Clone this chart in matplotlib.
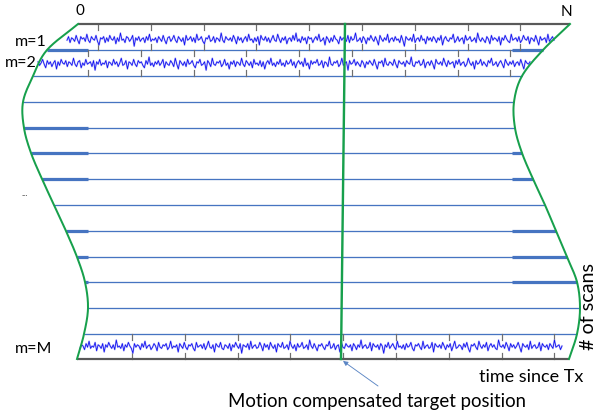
import numpy as np
import matplotlib
matplotlib.use("Agg")
import matplotlib.pyplot as plt

# ---------------- data ----------------
col_labels = ["0", "N"]
row_labels = ["m=1", "m=2", "...", "m=M"]
axis_title_x = "time since Tx"
axis_title_y = "# of scans"
annotation = "Motion compensated target position"

# row (scan) separator lines, y in pixels
row_lines_y = [50, 76, 102, 128, 153, 179, 205, 231, 257, 282, 308, 334]
left_thick_rows = [50, 128, 153, 179, 231, 257, 282]
right_thick_rows = [50, 153, 179, 231, 257, 282]

# left / right boundary curves (x, y)
left_curve_x = [78, 47, 33, 23, 24, 31, 42, 54, 66, 77, 85, 88, 84, 77]
left_curve_y = [24, 50, 76, 102, 128, 153, 179, 205, 231, 257, 282, 308, 334, 359]
right_curve_x = [570, 543, 522, 514, 515, 522, 533, 545, 556, 567, 577, 580, 577, 569]
right_curve_y = [24, 50, 76, 102, 128, 153, 179, 205, 231, 257, 282, 308, 334, 359]

# received signal traces (pixel offsets)
noise_m1_a = [
 1,-2, 3,-1, 0, 2,-3, 1, 4,-2, 0,-1, 2,-4, 1, 3,-2, 0, 1,-3,
 2, 5,-1, 0,-2, 3,-1, 2,-3, 0, 1,-2, 4,-1, 2,-5, 1, 0, 3,-2,
-1, 2, 0,-3, 6,-1, 1,-2, 2, 0,-1, 3,-2, 1,-4, 2, 0, 1,-1, 3,
-2, 0, 2,-3, 1, 4,-1,-2, 2, 0,-3, 1, 3,-2, 0, 2,-1, 5,-3, 1,
 0,-2, 2,-1, 3,-4, 1, 0,-2, 2, 4,-1, 0,-3, 2, 1,-2, 3,-1, 0,
 2,-5, 1, 3,-2, 0, 1,-1, 2,-3, 0, 4,-2, 1,-1, 3, 0,-2, 2,-4,
 1, 0, 3,-1, 2,-2, 5,-3, 0, 1,-2, 2,-1, 3, 0,-3, 1, 2,-4, 0,
 3,-1, 1,-2, 4, 0,-1, 2,-3, 1,-5, 2, 0, 3,-2, 1,-1, 4,-2, 0]
noise_m1_b = [
-1, 3, 0,-2, 1,-4, 2, 1,-1, 5,-2, 0, 3,-1, 2,-3, 0, 1, 4,-2,
 1,-1, 0, 2,-3, 3,-2, 1, 0,-5, 2, 1,-1, 3,-2, 0, 4,-1, 1,-3,
 0, 2,-2, 1, 5,-3, 0, 2,-1, 1,-4, 3, 0,-1, 2,-2, 1, 0, 3,-3,
 1, 6,-2, 0, 1,-1, 2,-4, 3, 0,-1, 2,-3, 1, 0, 4,-2, 1,-1, 2,
-2, 0, 3,-1, 1,-3, 5, 0,-2, 1, 2,-1, 0,-4, 3, 1,-2, 2, 0,-1,
 4,-3, 1, 0,-2, 2, 1,-1, 3,-5, 0, 2,-1, 1, 3,-2, 0, 4,-3, 1,
-1, 0, 2,-2, 5,-1, 1,-3, 0, 2, 3,-4, 1, 0,-1, 2,-2, 3, 1,-3,
 0, 1,-2, 4,-1, 0, 2,-3, 1, 5,-2, 1, 0,-1, 3,-4, 2, 0,-2, 1]
noise_m2_a = [
-1, 2, 0,-3, 1, 4,-2, 1,-1, 3, 0,-2, 5,-1, 2,-3, 0, 1,-2, 3,
-1, 0, 2,-4, 1, 3,-1,-2, 4, 0, 2,-3, 1, 0,-1, 3,-2, 6,-1, 1,
-3, 2, 0, 1,-2, 4,-1, 0, 2,-3, 1,-1, 3, 0,-4, 2, 1,-2, 5,-1,
 0, 2,-3, 1, 3,-2, 0,-1, 2, 4,-2, 1,-5, 2, 0, 3,-1, 1,-2, 2,
 0,-3, 4,-1, 1, 2,-2, 0, 3,-4, 1, 5,-2, 0, 2,-1, 3,-3, 1, 0,
-2, 2, 4,-1, 0,-3, 2, 1,-1, 6,-2, 0, 3,-4, 1, 2,-1, 0,-2, 3,
 1,-3, 2, 0, 5,-1, 1,-2, 3,-1, 0, 2,-4, 1, 3,-2, 0, 2,-1, 4,
-3, 1, 0, 2,-2, 3,-1, 5, 0,-2, 1,-4, 2, 0, 3,-1, 1,-3, 2, 0]
noise_m2_b = [
 3,-2, 1, 0,-3, 2,-1, 4, 0,-2, 1,-1, 3,-4, 2, 0, 5,-2, 1,-1,
 0,-3, 2, 1,-2, 4,-1, 0, 3,-5, 1, 2,-1, 0,-2, 3, 1,-4, 2, 0,
-1, 6,-2, 1, 0,-3, 2,-1, 1, 3,-2, 0, 4,-1, 1,-2, 0, 2,-3, 1,
 5,-1, 0,-2, 3,-4, 1, 2,-1, 0, 2,-3, 1, 4,-2, 0, 1,-1, 3,-2,
 0, 1,-5, 2, 3,-1, 0,-2, 2, 1,-3, 4, 0,-1, 2,-2, 1, 5,-3, 0,
 1,-1, 2,-4, 0, 3,-2, 1, 0,-1, 4,-2, 1,-3, 2, 0,-1, 3, 1,-4,
 0, 2,-1, 5,-2, 1, 0,-3, 2,-1, 1, 3,-2, 0,-4, 2, 1,-1, 3, 0,
-2, 1, 4,-3, 0, 2,-1, 1,-2, 3, 0,-1, 2,-3, 1, 5,-2, 0, 1,-1]
noise_mM_a = [
 2,-1, 0, 3,-2, 1,-4, 2, 0, 1,-3, 4,-1, 0, 2,-2, 5,-1, 1,-3,
 0, 2,-1, 3,-5, 1, 0, 2,-2, 4,-1, 1,-3, 0, 2, 6,-2, 1,-1, 0,
 3,-2, 1,-4, 2, 0,-1, 3, 1,-2, 0, 4,-3, 1, 2,-1, 0,-2, 3, 1,
-4, 2, 0, 1,-1, 5,-2, 0, 2,-3, 1, 3,-1, 0,-2, 2, 4,-3, 1, 0,
-1, 2,-2, 3, 0,-4, 1, 2,-1, 5,-2, 0, 1,-3, 2, 3,-1, 0, 2,-2,
 4,-1, 1,-3, 0, 2,-2, 6,-1, 0, 1,-2, 3,-4, 2, 0,-1, 2, 1,-3,
 0, 4,-2, 1,-1, 3,-3, 0, 2,-1, 5,-2, 0, 1,-3, 2, 1,-1, 3,-4,
 0, 2,-1, 4,-2, 1, 0,-3, 2, 1,-1, 3,-5, 0, 2,-2, 1, 4,-1, 0]
noise_mM_b = [
-2, 1, 3,-1, 0,-4, 2, 1,-2, 3, 0,-1, 5,-3, 1, 2,-2, 0, 1,-1,
 4,-2, 0, 3,-1, 1,-5, 2, 0,-1, 2, 1,-3, 4,-2, 0, 1,-1, 3,-2,
 0, 6,-1, 1,-3, 2, 0,-2, 1, 3,-4, 1, 0, 2,-1, 3,-2, 1, 0,-3,
 2, 4,-1, 0,-2, 1, 3,-4, 2, 0,-1, 2, 1,-3, 5,-2, 0, 1,-1, 2,
-3, 0, 3,-1, 1,-2, 4, 0,-4, 2, 1,-1, 0, 3,-2, 1,-3, 2, 5,-1,
 0,-2, 1, 3,-4, 0, 2,-1, 1,-3, 4, 0,-2, 1,-1, 2, 3,-5, 0, 1,
-1, 2,-3, 0, 4,-2, 1,-1, 2, 0,-3, 1, 5,-2, 0, 1,-1, 3,-4, 2,
 0,-1, 2, 1,-3, 4,-2, 0, 1,-1, 3,-2, 0, 2,-5, 1, 0,-1, 3, 0]

# ---------------- styles ----------------
GREEN = "#17a04c"
BLUE_LINE = "#4674c1"
TRACE = "#1010f0"
GREY = "#595959"
TICK = "#6f6f6f"
FONT = ["Lato", "DejaVu Sans"]
PX = 72 / 100.0

W, H = 597, 416
fig = plt.figure(figsize=(W / 100, H / 100), dpi=100)
ax = fig.add_axes([0, 0, 1, 1])
ax.set_xlim(0, W)
ax.set_ylim(H, 0)
ax.axis("off")


def smooth(xs, ys, n=16):
    P = np.column_stack([xs, ys]).astype(float)
    P = np.vstack([P[0] * 2 - P[1], P, P[-1] * 2 - P[-2]])
    out = []
    for i in range(1, len(P) - 2):
        p0, p1, p2, p3 = P[i - 1], P[i], P[i + 1], P[i + 2]
        for t in np.linspace(0, 1, n, endpoint=False):
            t2, t3 = t * t, t * t * t
            out.append(0.5 * ((2 * p1) + (-p0 + p2) * t + (2 * p0 - 5 * p1 + 4 * p2 - p3) * t2
                              + (-p0 + 3 * p1 - 3 * p2 + p3) * t3))
    out.append(P[-2])
    out = np.array(out)
    return out[:, 0], out[:, 1]


lx, ly = smooth(left_curve_x, left_curve_y)
rx, ry = smooth(right_curve_x, right_curve_y)


def lx_at(y):
    return float(np.interp(y, ly, lx))


def rx_at(y):
    return float(np.interp(y, ry, rx))


# row lines
for y in row_lines_y:
    ax.plot([lx_at(y), rx_at(y)], [y, y], color=BLUE_LINE, lw=1.3 * PX, solid_capstyle="butt", zorder=2)
for y in left_thick_rows:
    ax.plot([lx_at(y), 88], [y, y], color=BLUE_LINE, lw=3.2 * PX, solid_capstyle="butt", zorder=2)
for y in right_thick_rows:
    ax.plot([512, rx_at(y)], [y, y], color=BLUE_LINE, lw=3.2 * PX, solid_capstyle="butt", zorder=2)

# top and bottom axes
ax.plot([78, 570], [24, 24], color=GREY, lw=2.2 * PX, solid_capstyle="butt", zorder=3)
ax.plot([77, 569], [359, 359], color=GREY, lw=2.2 * PX, solid_capstyle="butt", zorder=3)


# ticks of the signal panels
def ticks(x0, step, n, ytop, ybot, ln=6):
    for k in range(n):
        x = x0 + step * k
        ax.plot([x, x], [ytop, ytop + ln], color=TICK, lw=1.2 * PX, zorder=2.5)
        ax.plot([x, x], [ybot, ybot - ln], color=TICK, lw=1.2 * PX, zorder=2.5)


ticks(98, 52.8, 9, 24, 50)
ticks(88, 52.8, 9, 50, 76)
ticks(132, 52.8, 9, 334, 359)


# signal traces
def trace(vals, x0, x1, yc, amp=1.0):
    v = np.asarray(vals, dtype=float)
    xs = np.linspace(x0, x1, len(v))
    ys = yc + amp * v
    ax.plot(xs, ys, color="#9a9af8", lw=1.8 * PX, alpha=0.6, zorder=4)
    ax.plot(xs, ys, color=TRACE, lw=0.8 * PX, zorder=4.5)


trace(noise_m1_a + noise_m1_b, 67, 554, 39, 1.2)
trace(noise_m2_a + noise_m2_b, 38, 530, 63, 1.2)
trace(noise_mM_a + noise_mM_b, 80, 562, 346, 1.2)

# green curves
ax.plot(lx, ly, color=GREEN, lw=2.0 * PX, zorder=5)
ax.plot(rx, ry, color=GREEN, lw=2.0 * PX, zorder=5)
ax.plot([345, 341], [24, 359], color=GREEN, lw=2.4 * PX, zorder=5)

# arrow
ax.annotate("", xy=(343, 361), xytext=(378, 386),
            arrowprops=dict(arrowstyle="-|>", color="#5b86c4", lw=0.9 * PX,
                            mutation_scale=7, shrinkA=0, shrinkB=0), zorder=6)

# texts
renderer = fig.canvas.get_renderer()


def fit_text(x, y, s, width_px, ha="center", va="center", rotation=0, base=12):
    t = ax.text(x, y, s, ha=ha, va=va, rotation=rotation, fontsize=base, family=FONT, color="black")
    bb = t.get_window_extent(renderer=renderer)
    w = bb.height if rotation else bb.width
    t.set_fontsize(base * width_px / w)
    return t


ax.text(80, 11, col_labels[0], ha="center", va="center", fontsize=11, family=FONT)
ax.text(566, 12, col_labels[1], ha="center", va="center", fontsize=11, family=FONT)
ax.text(31, 42, row_labels[0], ha="center", va="center", fontsize=11.5, family=FONT)
ax.text(21, 63, row_labels[1], ha="center", va="center", fontsize=11.5, family=FONT)
ax.text(25, 193, row_labels[2], ha="center", va="center", fontsize=6.5, family=FONT)
ax.text(34, 349, row_labels[3], ha="center", va="center", fontsize=11.5, family=FONT)
fit_text(531, 377, axis_title_x, 104)
fit_text(377, 402, annotation, 297)
fit_text(588, 306, axis_title_y, 87, rotation=90)

fig.savefig("out.png", dpi=100)
